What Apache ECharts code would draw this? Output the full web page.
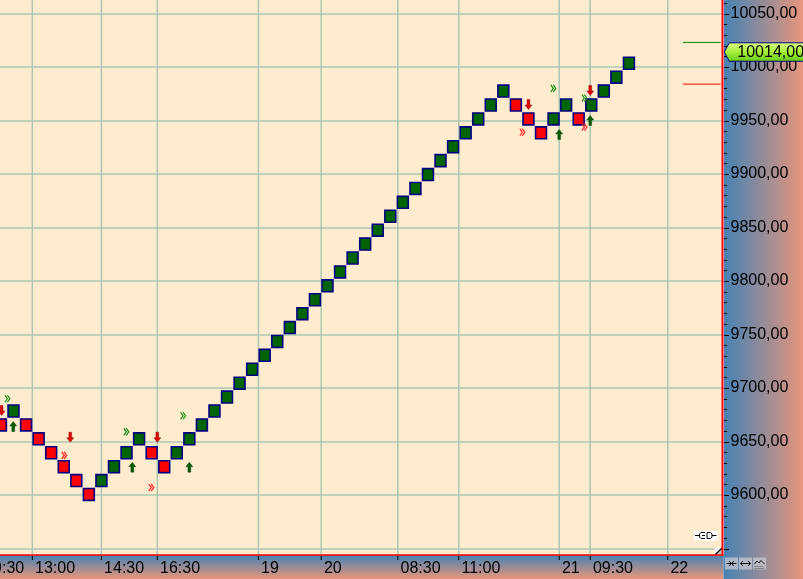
<!DOCTYPE html>
<html><head><meta charset="utf-8">
<script src="https://cdn.jsdelivr.net/npm/echarts@6/dist/echarts.min.js"></script>
<style>html,body{margin:0;padding:0;background:#fff;overflow:hidden;width:803px;height:579px;position:relative}
#panel{position:absolute;left:723.5px;top:0;width:80px;height:579px;background:linear-gradient(to right,#4682B4,#E9967A)}
#c{position:absolute;left:0;top:-40px;width:803px;height:642px}</style>
</head><body><div id="panel"></div><div id="c"></div>
<script>
// ---------------- data ----------------
const boxOpen  = [9672,9672,9672,9659,9646,9633,9620,9607,9607,9620,9633,9646,9646,9633,9633,9646,9659,9672,9685,9698,9711,9724,9737,9750,9763,9776,9789,9802,9815,9828,9841,9854,9867,9880,9893,9906,9919,9932,9945,9958,9971,9971,9958,9945,9945,9958,9958,9958,9971,9984,9997];
const boxClose = [9659,9685,9659,9646,9633,9620,9607,9594,9620,9633,9646,9659,9633,9620,9646,9659,9672,9685,9698,9711,9724,9737,9750,9763,9776,9789,9802,9815,9828,9841,9854,9867,9880,9893,9906,9919,9932,9945,9958,9971,9984,9958,9945,9932,9958,9971,9945,9971,9984,9997,10010];
const timeLabels  = ['09:30','13:00','14:30','16:30','19','20','08:30','11:00','21','09:30','22'];
const timeTickPos = [-1.55, 2.5, 8.0, 12.45, 20.5, 25.5, 31.6, 36.45, 44.45, 46.92, 53.09];
const lastPrice = 10014;
const upThreshold = 10023;
const downThreshold = 9984;
const thresholdSpan = [54.3, 57.3];
const sellArrows    = [[0.05, 9679], [5.52, 9654], [12.45, 9654], [42.0, 9965], [46.92, 9978]];
const buyArrows     = [[0.98, 9664], [10.46, 9626], [15.0, 9626], [44.45, 9937], [46.92, 9950]];
const greenChevrons = [[0.51, 9690], [9.98, 9659], [14.5, 9674], [43.98, 9980], [46.45, 9971]];
const redChevrons   = [[5.04, 9637], [11.97, 9607], [41.51, 9939], [46.45, 9944]];
const yMin = 9500, yMax = 10100, yStep = 50, yMinorStep = 10, yLabelMin = 9600;

// ---------------- layout / style ----------------
// chart canvas is shifted up by OFF px (see CSS) so that the off-screen axis range stays a multiple of the interval
const OFF = 40;
const W = 803, H = 579, plotRight = 722.5, plotBottom = 555 + OFF, visBottom = H + OFF;
const xMin = -0.075, xMax = 57.45;
const FONT = '16px "Liberation Sans", Arial, sans-serif';
const gridColor = '#a9c8b3';
const hGrad = () => new echarts.graphic.LinearGradient(0,0,1,0,[{offset:0,color:'#4682B4'},{offset:1,color:'#E9967A'}]);
const vGrad = () => new echarts.graphic.LinearGradient(0,0,0,1,[{offset:0,color:'#4682B4'},{offset:1,color:'#E9967A'}]);

// y-axis tick values (axis layout: one every minor step across the axis range)
const yTickValues = [];
for (let v = yMin; v <= yMax; v += yMinorStep) yTickValues.push(v);

const chart = echarts.init(document.getElementById('c'), null, {renderer:'canvas'});

const option = {
  animation: false,
  backgroundColor: 'transparent',
  grid: {left: 0, right: W - plotRight, top: 0, bottom: 0, show: true, backgroundColor: '#FFEBCD', borderWidth: 0},
  xAxis: {type: 'value', min: xMin, max: xMax, show: false, axisLine: {onZero: false}},
  yAxis: {
    type: 'value', position: 'right', min: yMin, max: yMax, interval: yStep, z: 2,
    axisLine: {show: false, onZero: false},
    axisTick: {show: false},
    axisLabel: {margin: 8, color: '#000', fontFamily: '"Liberation Sans", Arial, sans-serif', fontSize: 16,
      formatter: v => (v < yLabelMin || v > yMax - yStep) ? '' : v.toFixed(2).replace('.', ',')},
    splitLine: {show: true, lineStyle: {color: gridColor, width: 1.5}}
  },
  series: [
    { // vertical grid lines
      type: 'custom', z: 2, silent: true, clip: false,
      data: timeTickPos.map(p => [p, yMin]), encode: {x: 0, y: 1},
      renderItem: (params, api) => {
        const x = api.coord([api.value(0), yMin])[0];
        return {type: 'line', shape: {x1: x, y1: 0, x2: x, y2: plotBottom}, style: {stroke: gridColor, lineWidth: 1.5}};
      }
    },
    { // renko boxes
      type: 'custom', z: 3, silent: true,
      data: boxOpen.map((o, i) => [i, o, boxClose[i]]), encode: {x: 0, y: [1, 2]},
      renderItem: (params, api) => {
        const i = api.value(0), o = api.value(1), c = api.value(2);
        const hi = Math.max(o, c), lo = Math.min(o, c);
        const p1 = api.coord([i - 0.5, hi]), p2 = api.coord([i + 0.5, lo]);
        const ix = 0.85, iy = 1.0;
        return {type: 'rect',
          shape: {x: p1[0] + ix, y: p1[1] + iy, width: p2[0] - p1[0] - 2 * ix, height: p2[1] - p1[1] - 2 * iy},
          style: {fill: c > o ? '#006400' : '#FF0000', stroke: '#000080', lineWidth: 1.6}};
      }
    },
    { type: 'scatter', z: 4, silent: true, data: buyArrows,
      symbol: 'path://M4,0 L8,5 L5.6,5 L5.6,11 L2.4,11 L2.4,5 L0,5 Z', symbolSize: [7, 10],
      itemStyle: {color: '#006000', borderColor: '#003000', borderWidth: 0.4, opacity: 1} },
    { type: 'scatter', z: 4, silent: true, data: sellArrows,
      symbol: 'path://M4,11 L8,6 L5.6,6 L5.6,0 L2.4,0 L2.4,6 L0,6 Z', symbolSize: [7, 10],
      itemStyle: {color: '#E00000', borderColor: '#800000', borderWidth: 0.4, opacity: 1} },
    { type: 'scatter', z: 4, silent: true, data: greenChevrons,
      symbol: 'path://M0,0 L3,4.5 L0,9 M3,0 L6,4.5 L3,9', symbolSize: [5, 7],
      itemStyle: {color: 'rgba(0,0,0,0)', borderColor: '#1E961E', borderWidth: 1.3, opacity: 1} },
    { type: 'scatter', z: 4, silent: true, data: redChevrons,
      symbol: 'path://M0,0 L3,4.5 L0,9 M3,0 L6,4.5 L3,9', symbolSize: [5, 7],
      itemStyle: {color: 'rgba(0,0,0,0)', borderColor: '#FF2020', borderWidth: 1.3, opacity: 1} },
    { type: 'line', z: 4, silent: true, symbol: 'none', data: thresholdSpan.map(x => [x, upThreshold]),
      lineStyle: {color: '#008000', width: 1} },
    { type: 'line', z: 4, silent: true, symbol: 'none', data: thresholdSpan.map(x => [x, downThreshold]),
      lineStyle: {color: '#FF0000', width: 1} },
    { // time axis ticks + labels
      type: 'custom', z: 6, silent: true, clip: false,
      data: timeTickPos.map(p => [p, yMin]), encode: {x: 0, y: 1},
      renderItem: (params, api) => {
        const x = api.coord([api.value(0), yMin])[0];
        return {type: 'group', children: [
          {type: 'line', shape: {x1: x, y1: plotBottom + 1, x2: x, y2: plotBottom + 5}, style: {stroke: '#000', lineWidth: 1}},
          {type: 'text', x: x + 2.7, y: plotBottom + 14, style: {text: timeLabels[params.dataIndex], font: FONT, fill: '#000', align: 'left', verticalAlign: 'middle'}}
        ]};
      }
    }
  ]
};
chart.setOption(option);

const ty = chart.convertToPixel({yAxisIndex: 0}, lastPrice);
const B = plotBottom;
// price-axis ticks, positioned through the y scale
const tickEls = yTickValues.map(v => {
  const y = Math.round(chart.convertToPixel({yAxisIndex: 0}, v)) + 0.5;
  const len = (v % yStep === 0) ? 5 : 3;
  return {type: 'line', z: 4, silent: true, shape: {x1: plotRight + 1.5, y1: y, x2: plotRight + 1.5 + len, y2: y}, style: {stroke: '#000000', lineWidth: 1}};
});
const graphics = tickEls.concat([
  {type: 'rect', z: 5, silent: true, shape: {x: 0, y: B, width: plotRight + 1, height: visBottom - B}, style: {fill: vGrad()}},
  {type: 'rect', z: 5, silent: true, shape: {x: plotRight + 1, y: B + 1, width: W - plotRight, height: visBottom - B}, style: {fill: hGrad()}},
  // buttons
  {type: 'rect', z: 5, silent: true, shape: {x: 725, y: B + 2.5, width: 13, height: 12}, style: {fill: 'rgba(200,200,210,0.75)'}},
  {type: 'rect', z: 5, silent: true, shape: {x: 739, y: B + 2.5, width: 13, height: 12}, style: {fill: 'rgba(200,200,210,0.75)'}},
  {type: 'rect', z: 5, silent: true, shape: {x: 753, y: B + 2.5, width: 13, height: 12}, style: {fill: 'rgba(200,200,210,0.75)'}},
  {type: 'polyline', z: 6, silent: true, shape: {points: [[726.5,B+8.5],[736.5,B+8.5]]}, style: {stroke: '#111', lineWidth: 1}},
  {type: 'polyline', z: 6, silent: true, shape: {points: [[729,B+6],[731.5,B+8.5],[729,B+11]]}, style: {stroke: '#111', lineWidth: 1, fill: null}},
  {type: 'polyline', z: 6, silent: true, shape: {points: [[734,B+6],[731.5,B+8.5],[734,B+11]]}, style: {stroke: '#111', lineWidth: 1, fill: null}},
  {type: 'polyline', z: 6, silent: true, shape: {points: [[740.5,B+8.5],[750.5,B+8.5]]}, style: {stroke: '#111', lineWidth: 1}},
  {type: 'polyline', z: 6, silent: true, shape: {points: [[743,B+6],[740.5,B+8.5],[743,B+11]]}, style: {stroke: '#111', lineWidth: 1, fill: null}},
  {type: 'polyline', z: 6, silent: true, shape: {points: [[748,B+6],[750.5,B+8.5],[748,B+11]]}, style: {stroke: '#111', lineWidth: 1, fill: null}},
  {type: 'polyline', z: 6, silent: true, shape: {points: [[754.5,B+9],[757,B+6],[759,B+8],[761,B+5.5],[764.5,B+9]]}, style: {stroke: '#111', lineWidth: 1, fill: null}},
  {type: 'polyline', z: 6, silent: true, shape: {points: [[754.5,B+11.5],[764.5,B+11.5]]}, style: {stroke: '#555', lineWidth: 1, lineDash: [1,1]}},
  {type: 'polyline', z: 6, silent: true, shape: {points: [[754.5,B+13.5],[764.5,B+13.5]]}, style: {stroke: '#555', lineWidth: 1, lineDash: [1,1]}},
  // plug icon
  {type: 'rect', z: 5, silent: true, shape: {x: 694, y: B - 24, width: 24, height: 9.5}, style: {fill: '#ffffff'}},
  {type: 'polyline', z: 6, silent: true, shape: {points: [[695,B-19.5],[699,B-19.5]]}, style: {stroke: '#000', lineWidth: 1}},
  {type: 'polyline', z: 6, silent: true, shape: {points: [[705,B-22.5],[701,B-22.5],[699.5,B-21],[699.5,B-18],[701,B-16.5],[705,B-16.5]]}, style: {stroke: '#000', lineWidth: 1, fill: null}},
  {type: 'polyline', z: 6, silent: true, shape: {points: [[702,B-19.5],[705,B-19.5]]}, style: {stroke: '#000', lineWidth: 1}},
  {type: 'polyline', z: 6, silent: true, shape: {points: [[707,B-22.5],[710.5,B-22.5],[712,B-21],[712,B-18],[710.5,B-16.5],[707,B-16.5],[707,B-22.5]]}, style: {stroke: '#000', lineWidth: 1, fill: null}},
  {type: 'polyline', z: 6, silent: true, shape: {points: [[712,B-19.5],[716.5,B-19.5]]}, style: {stroke: '#000', lineWidth: 1}},
  // resize corner
  {type: 'rect', z: 5, silent: true, shape: {x: 714.5, y: B - 7.5, width: 8, height: 8}, style: {fill: '#f4f4f4'}},
  {type: 'polygon', z: 6, silent: true, shape: {points: [[722.5,B-7.5],[722.5,B+0.5],[714.5,B+0.5]]}, style: {fill: '#c8c8c8'}},
  {type: 'polyline', z: 6, silent: true, shape: {points: [[715,B],[722,B-7]]}, style: {stroke: '#000', lineWidth: 1.2}},
  // red borders
  {type: 'line', z: 7, silent: true, shape: {x1: plotRight, y1: 0, x2: plotRight, y2: B + 1}, style: {stroke: '#FF0000', lineWidth: 2}},
  {type: 'line', z: 7, silent: true, shape: {x1: 0, y1: B, x2: plotRight + 1, y2: B}, style: {stroke: '#FF0000', lineWidth: 1.5}},
  // last-price tag
  {type: 'polygon', z: 8, silent: true,
    shape: {points: [[plotRight + 1.8, ty], [plotRight + 6.8, ty - 9.2], [W + 10, ty - 9.2], [W + 10, ty + 9.2], [plotRight + 6.8, ty + 9.2]]},
    style: {fill: new echarts.graphic.LinearGradient(0,0,0,1,[{offset:0,color:'#dcff86'},{offset:0.5,color:'#a6ee3a'},{offset:1,color:'#66cc10'}]), stroke: '#000080', lineWidth: 1}},
  {type: 'text', z: 9, silent: true, x: plotRight + 14.8, y: ty + 0.5,
    style: {text: lastPrice.toFixed(2).replace('.', ','), font: FONT, fill: '#000', align: 'left', verticalAlign: 'middle'}}
]);
chart.setOption({graphic: {elements: graphics}});
</script></body></html>
